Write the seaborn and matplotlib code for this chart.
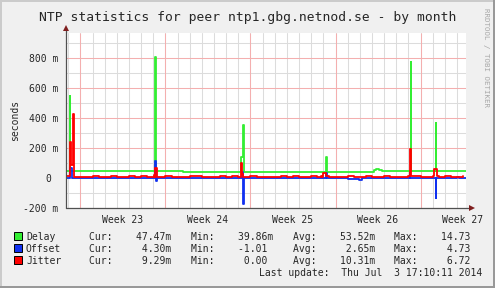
import numpy as np
import pandas as pd
import matplotlib
matplotlib.use("Agg")
import matplotlib.pyplot as plt
import seaborn as sns
from matplotlib.lines import Line2D
from matplotlib.patches import Rectangle
from matplotlib.ticker import FixedLocator

# ---------------- data (x: days since Mon 2 Jun 2014 00:00, y: milliseconds) ----------------
title = "NTP statistics for peer ntp1.gbg.netnod.se - by month"

delay_t = [-1.50, -0.895, -0.835, 6.175, 6.235, 8.44, 13.25, 13.365, 13.425, 20.20, 20.26,
           24.20, 24.32, 24.62, 24.85, 27.19, 27.25, 29.25, 29.31, 32.0]
delay_v = [45, 550, 45, 810, 45, 38, 140, 355, 38, 141, 38,
           52, 60, 52, 47, 777, 47, 368, 47, 47]

offset_base_t = list(range(-2, 33))
offset_base_v = [1, 1, 0, 1, 0, 0, 1, 0, 0, 1, 0, 0, 1, 0, 0, 1, 0, 0, 1, 0, 0, -1,
                 0, -2, -3, 0, 1, 0, 0, 1, 0, 0, 3, 1, 1]
offset_spike_start = [-0.90, -0.84, 6.16, 6.22, 13.33, 13.37, 20.20, 22.95, 27.10, 29.25, 31.0]
offset_spike_end   = [-0.84, -0.74, 6.22, 6.28, 13.37, 13.43, 20.27, 23.15, 27.16, 29.31, 31.2]
offset_spike_val   = [40, 70, 114, -20, 42, -172, 33, -13, 36, -132, 8]

jitter_base_t = list(np.arange(-1.5, 32.0, 0.5))
jitter_base_v = [15, 16, 9, 7, 8, 12, 7, 9, 15, 8, 7, 11, 8, 13, 9, 7, 10, 14, 8, 9, 7, 12, 15,
                 8, 9, 7, 11, 8, 13, 7, 9, 16, 8, 10, 7, 9, 12, 8, 14, 7, 9, 11, 8, 15, 7, 10, 9,
                 13, 8, 7, 12, 9, 8, 15, 7, 10, 8, 11, 14, 7, 9, 12, 8, 13, 9, 10, 12]
jitter_spike_start = [-0.86, -0.76, -0.64, 6.05, 6.15, 13.18, 13.30, 19.80, 20.00, 27.12, 29.09]
jitter_spike_end   = [-0.76, -0.64, -0.56, 6.12, 6.27, 13.30, 13.38, 19.88, 20.18, 27.24, 29.36]
jitter_spike_val   = [243, 85, 431, 20, 65, 100, 25, 15, 33, 192, 62]

series_names = ["Delay", "Offset", "Jitter"]
series_colors = ["#33EE33", "#1030F0", "#FF0000"]
cur_vals = ["47.47m", "4.30m", "9.29m"]
min_vals = ["39.86m", "-1.01 ", "0.00 "]
avg_vals = ["53.52m", "2.65m", "10.31m"]
max_vals = ["14.73 ", "4.73 ", "6.72 "]
last_update = "Last update:  Thu Jul  3 17:10:11 2014"

week_starts = [0, 7, 14, 21, 28]
week_mids = [3.5, 10.5, 17.5, 24.5, 31.5]
week_labels = ["Week 23", "Week 24", "Week 25", "Week 26", "Week 27"]
y_ticks = [-200, 0, 200, 400, 600, 800]
y_ticklabels = ["-200 m", "0 ", "200 m", "400 m", "600 m", "800 m"]
x_range = (-1.194, 31.747)
y_range = (-200, 970)


def build(bt, bv, ss, se, sv):
    pts = list(zip(bt, bv))
    base = list(zip(bt, bv))
    for s, e, v in zip(ss, se, sv):
        b = [p for p in base if p[0] <= e][-1][1]
        pts = [p for p in pts if not (s <= p[0] < e)]
        pts += [(s, v), (e, b)]
    pts.sort(key=lambda p: p[0])
    return pd.DataFrame(pts, columns=["day", "value"])


delay_df = pd.DataFrame({"day": delay_t, "value": delay_v})
offset_df = build(offset_base_t, offset_base_v, offset_spike_start, offset_spike_end, offset_spike_val)
jitter_df = build(jitter_base_t, jitter_base_v, jitter_spike_start, jitter_spike_end, jitter_spike_val)

# ---------------- figure ----------------
sns.set_style("white")
plt.rcParams["font.family"] = ["DejaVu Sans Mono"]

W, H = 495, 288
fig = plt.figure(figsize=(W / 100, H / 100), dpi=100)
fig.patch.set_facecolor("#F0F0F0")


def fx(px):
    return px / W


def fy(py):
    return 1 - py / H


ax = fig.add_axes([fx(66), fy(208), 400 / W, 175 / H])
ax.set_facecolor("white")
ax.set_xlim(*x_range)
ax.set_ylim(*y_range)
ax.set_axisbelow(True)

MINOR_C = "#DCDCDC"
MAJOR_C = "#F4AFAF"

# grid
ax.xaxis.set_minor_locator(FixedLocator(list(range(-1, 32))))
ax.yaxis.set_minor_locator(FixedLocator(list(range(-200, 1000, 100))))
ax.set_xticks(week_mids)
ax.set_xticklabels(week_labels)
ax.set_yticks(y_ticks)
ax.set_yticklabels(y_ticklabels)
ax.grid(which="minor", color=MINOR_C, lw=0.75)
ax.grid(which="major", axis="y", color=MAJOR_C, lw=0.75)
ax.grid(which="major", axis="x", visible=False)
ax.vlines(week_starts, y_range[0], y_range[1], colors=MAJOR_C, lw=0.75, zorder=0.8)
ax.tick_params(axis="x", which="major", length=0, pad=5.0, labelsize=7)
ax.tick_params(axis="x", which="minor", length=1.5, color=MINOR_C, direction="out")
ax.tick_params(axis="y", which="major", length=2.2, color="#505050", pad=3.6, labelsize=7)
ax.tick_params(axis="y", which="minor", length=1.5, color=MINOR_C)
for sp in ax.spines.values():
    sp.set_visible(False)

# data
sns.lineplot(data=delay_df, x="day", y="value", estimator=None, sort=False,
             drawstyle="steps-post", color=series_colors[0], lw=1.3, ax=ax, zorder=3)
sns.lineplot(data=offset_df, x="day", y="value", estimator=None, sort=False,
             drawstyle="steps-post", color=series_colors[1], lw=1.3, ax=ax, zorder=4)
sns.lineplot(data=jitter_df, x="day", y="value", estimator=None, sort=False,
             drawstyle="steps-post", color=series_colors[2], lw=1.3, ax=ax, zorder=5)
ax.set_xlabel("")
ax.set_ylabel("seconds", fontsize=7, va="center")
ax.yaxis.set_label_coords((15.3 - 66) / 400, 0.5)

# axes lines with arrows
AX_C = "#505050"
ax.add_line(Line2D([0, 1 + 6 / 400], [0, 0], transform=ax.transAxes, color=AX_C, lw=0.9,
                   clip_on=False, zorder=6))
ax.add_line(Line2D([0, 0], [0, 1 + 5 / 175], transform=ax.transAxes, color=AX_C, lw=0.9,
                   clip_on=False, zorder=6))
ax.plot([1 + 6 / 400], [0], marker=">", ms=4, color="#7F1F1F", transform=ax.transAxes,
        clip_on=False, zorder=7, mew=0)
ax.plot([0], [1 + 5 / 175], marker="^", ms=4, color="#7F1F1F", transform=ax.transAxes,
        clip_on=False, zorder=7, mew=0)

# title and side text
fig.text(fx(247.5), fy(21), title, ha="center", va="baseline", fontsize=9.4)
fig.text(fx(485.8), fy(58), "RRDTOOL / TOBI OETIKER", rotation=270, ha="center",
         va="center", fontsize=5.4, color="#A8A8A8")

# legend block
for i, name in enumerate(series_names):
    base = 240.3 + 12 * i
    fig.add_artist(Rectangle((fx(14), fy(base)), 8 / W, 8 / H, facecolor=series_colors[i],
                             edgecolor="black", lw=0.7, transform=fig.transFigure))
    fig.text(fx(26.0), fy(base), name, va="baseline", ha="left", fontsize=7)
    for lx, lab, val in [(88.6, "Cur:", cur_vals[i]), (191.0, "Min:", min_vals[i]),
                         (292.6, "Avg:", avg_vals[i]), (394.3, "Max:", max_vals[i])]:
        fig.text(fx(lx), fy(base), lab + val.rjust(10), va="baseline", ha="left", fontsize=7)
fig.text(fx(482), fy(276.3), last_update, va="baseline", ha="right", fontsize=7)

# 3D-ish border
fig.add_artist(Rectangle((0, 0), 1, 2 / H, facecolor="#999999", lw=0, transform=fig.transFigure))
fig.add_artist(Rectangle((1 - 2 / W, 0), 2 / W, 1, facecolor="#999999", lw=0, transform=fig.transFigure))
fig.add_artist(Rectangle((0, 1 - 2 / H), 1 - 2 / W, 2 / H, facecolor="#CBCBCB", lw=0, transform=fig.transFigure))
fig.add_artist(Rectangle((0, 2 / H), 2 / W, 1 - 4 / H, facecolor="#CBCBCB", lw=0, transform=fig.transFigure))

fig.savefig("out.png", dpi=100, facecolor=fig.get_facecolor())
